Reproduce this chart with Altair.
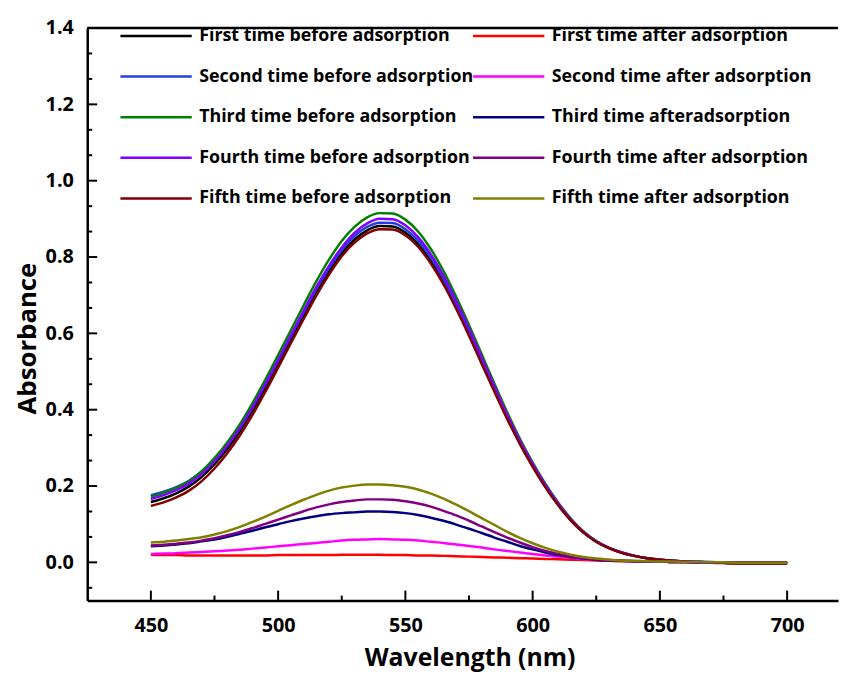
import altair as alt
import pandas as pd

wavelength = list(range(450, 701, 5))

before_names = ["First time before adsorption", "Second time before adsorption",
                "Third time before adsorption", "Fourth time before adsorption",
                "Fifth time before adsorption"]
after_names = ["First time after adsorption", "Second time after adsorption",
               "Third time afteradsorption", "Fourth time after adsorption",
               "Fifth time after adsorption"]
before_colors = ["#000000", "#1f3fe0", "#008000", "#8000ff", "#800000"]
after_colors = ["#ff0000", "#ff00ff", "#000080", "#800080", "#808000"]

first_before = [0.158, 0.168, 0.181, 0.199, 0.224, 0.257, 0.297, 0.344, 0.398, 0.458,
                0.521, 0.584, 0.647, 0.708, 0.763, 0.810, 0.846, 0.870, 0.881, 0.880,
                0.864, 0.834, 0.790, 0.734, 0.669, 0.598, 0.524, 0.450, 0.378, 0.312,
                0.252, 0.198, 0.151, 0.110, 0.078, 0.054, 0.037, 0.025, 0.017, 0.011,
                0.007, 0.004, 0.002, 0.001, 0.000, -0.001, -0.002, -0.002, -0.002, -0.002, -0.002]
second_before = [0.176, 0.185, 0.197, 0.214, 0.238, 0.270, 0.309, 0.355, 0.408, 0.467,
                 0.529, 0.592, 0.655, 0.716, 0.771, 0.818, 0.855, 0.879, 0.890, 0.889,
                 0.873, 0.843, 0.799, 0.742, 0.676, 0.605, 0.530, 0.455, 0.382, 0.315,
                 0.255, 0.200, 0.153, 0.112, 0.079, 0.055, 0.038, 0.026, 0.017, 0.011,
                 0.007, 0.004, 0.003, 0.002, 0.001, 0.000, -0.001, -0.001, -0.001, -0.001, -0.001]
third_before = [0.172, 0.182, 0.195, 0.213, 0.239, 0.273, 0.314, 0.362, 0.418, 0.479,
                0.543, 0.608, 0.673, 0.736, 0.793, 0.842, 0.879, 0.904, 0.915, 0.914,
                0.898, 0.867, 0.821, 0.763, 0.695, 0.622, 0.545, 0.468, 0.393, 0.324,
                0.262, 0.206, 0.157, 0.115, 0.081, 0.056, 0.038, 0.026, 0.017, 0.011,
                0.007, 0.004, 0.002, 0.001, 0.000, -0.001, -0.002, -0.002, -0.002, -0.002, -0.002]
fourth_before = [0.166, 0.176, 0.189, 0.207, 0.232, 0.265, 0.305, 0.352, 0.407, 0.467,
                 0.530, 0.595, 0.659, 0.721, 0.777, 0.825, 0.863, 0.888, 0.900, 0.899,
                 0.883, 0.852, 0.807, 0.750, 0.684, 0.612, 0.536, 0.460, 0.387, 0.319,
                 0.258, 0.203, 0.155, 0.113, 0.080, 0.055, 0.038, 0.026, 0.017, 0.011,
                 0.007, 0.004, 0.002, 0.001, 0.000, -0.001, -0.002, -0.002, -0.002, -0.002, -0.002]
fifth_before = [0.148, 0.157, 0.170, 0.188, 0.213, 0.246, 0.286, 0.333, 0.387, 0.447,
                0.510, 0.574, 0.637, 0.699, 0.754, 0.802, 0.838, 0.862, 0.873, 0.872,
                0.857, 0.827, 0.783, 0.728, 0.664, 0.594, 0.520, 0.447, 0.376, 0.310,
                0.251, 0.197, 0.150, 0.110, 0.078, 0.054, 0.037, 0.025, 0.017, 0.011,
                0.007, 0.004, 0.002, 0.000, -0.001, -0.002, -0.003, -0.003, -0.003, -0.003, -0.003]

first_after = [0.020, 0.019, 0.019, 0.018, 0.018, 0.018, 0.018, 0.018, 0.018, 0.018,
               0.019, 0.019, 0.019, 0.019, 0.019, 0.020, 0.020, 0.020, 0.020, 0.019,
               0.019, 0.018, 0.018, 0.017, 0.016, 0.015, 0.014, 0.013, 0.012, 0.011,
               0.010, 0.009, 0.008, 0.007, 0.006, 0.005, 0.004, 0.003, 0.003, 0.002,
               0.002, 0.001, 0.001, 0.000, 0.000, 0.000, -0.001, -0.001, -0.001, -0.001, -0.001]
second_after = [0.022, 0.023, 0.024, 0.026, 0.027, 0.029, 0.031, 0.033, 0.036, 0.039,
                0.042, 0.045, 0.048, 0.051, 0.054, 0.057, 0.059, 0.060, 0.061, 0.060,
                0.059, 0.057, 0.054, 0.051, 0.047, 0.043, 0.039, 0.034, 0.030, 0.026,
                0.022, 0.018, 0.015, 0.012, 0.009, 0.007, 0.005, 0.004, 0.003, 0.002,
                0.002, 0.001, 0.001, 0.000, 0.000, 0.000, -0.001, -0.001, -0.001, -0.001, -0.001]
third_after = [0.042, 0.044, 0.047, 0.050, 0.055, 0.060, 0.067, 0.075, 0.083, 0.092,
               0.100, 0.108, 0.115, 0.121, 0.126, 0.129, 0.131, 0.133, 0.133, 0.132,
               0.129, 0.124, 0.117, 0.109, 0.099, 0.088, 0.077, 0.065, 0.054, 0.043,
               0.034, 0.026, 0.019, 0.014, 0.010, 0.007, 0.005, 0.004, 0.003, 0.002,
               0.002, 0.001, 0.001, 0.000, 0.000, 0.000, -0.001, -0.001, -0.001, -0.001, -0.001]
fourth_after = [0.044, 0.046, 0.049, 0.052, 0.057, 0.063, 0.071, 0.080, 0.090, 0.101,
                0.112, 0.123, 0.134, 0.144, 0.152, 0.158, 0.162, 0.165, 0.165, 0.164,
                0.160, 0.154, 0.146, 0.135, 0.123, 0.109, 0.094, 0.079, 0.065, 0.052,
                0.040, 0.030, 0.022, 0.016, 0.011, 0.008, 0.006, 0.004, 0.003, 0.002,
                0.002, 0.001, 0.001, 0.000, 0.000, -0.001, -0.001, -0.001, -0.001, -0.001, -0.001]
fifth_after = [0.052, 0.054, 0.057, 0.061, 0.066, 0.073, 0.082, 0.093, 0.106, 0.120,
               0.135, 0.150, 0.164, 0.177, 0.188, 0.196, 0.201, 0.204, 0.204, 0.202,
               0.198, 0.191, 0.180, 0.167, 0.151, 0.134, 0.116, 0.098, 0.080, 0.064,
               0.050, 0.038, 0.028, 0.020, 0.014, 0.010, 0.007, 0.005, 0.004, 0.003,
               0.002, 0.002, 0.001, 0.001, 0.000, 0.000, -0.001, -0.001, -0.001, -0.001, -0.001]

y_major = [0.0, 0.2, 0.4, 0.6, 0.8, 1.0, 1.2, 1.4]
y_minor = [-0.0667, 0.0667, 0.1333, 0.2667, 0.3333, 0.4667, 0.5333, 0.6667, 0.7333,
           0.8667, 0.9333, 1.0667, 1.1333, 1.2667, 1.3333]
x_major = [450, 500, 550, 600, 650, 700]
x_minor = [475, 525, 575, 625, 675]

FONT = "Open Sans"
W, H = 758, 578

before_series = [first_before, second_before, third_before, fourth_before, fifth_before]
after_series = [first_after, second_after, third_after, fourth_after, fifth_after]

def long_table(names, series):
    rows = []
    for order, (name, vals) in enumerate(zip(names, series)):
        for wl, v in zip(wavelength, vals):
            rows.append({"wl": wl, "abs": v, "series": name, "order": order})
    return pd.DataFrame(rows)

df_before = long_table(before_names, before_series)
df_after = long_table(after_names, after_series)

xscale = alt.Scale(domain=[425, 720], nice=False, zero=False)
yscale = alt.Scale(domain=[-0.1, 1.4], nice=False, zero=False)

x_axis = alt.Axis(values=x_major, format="d", title="Wavelength (nm)", ticks=False, tickSize=0,
                  grid=False, domainColor="black", domainWidth=2.5, labelFont=FONT,
                  labelFontSize=20, labelFontWeight="bold", labelColor="black", labelPadding=15,
                  titleFont=FONT, titleFontSize=25, titleFontWeight="bold", titleColor="black",
                  titleX=386, titleY=66, titleAlign="center", titleBaseline="alphabetic")
y_axis = alt.Axis(values=y_major, format=".1f", title="Absorbance", ticks=False, tickSize=0,
                  grid=False, domainColor="black", domainWidth=2.5, labelFont=FONT,
                  labelFontSize=20, labelFontWeight="bold", labelColor="black", labelPadding=14,
                  titleFont=FONT, titleFontSize=26, titleFontWeight="bold", titleColor="black",
                  titleX=-52, titleY=313, titleAngle=270, titleAlign="center",
                  titleBaseline="alphabetic")

def legend(x):
    return alt.Legend(orient="none", legendX=x, legendY=-2, title=None, symbolType="stroke",
                      symbolSize=5184, symbolStrokeWidth=2.5, clipHeight=20, rowPadding=21,
                      labelOffset=6, labelFont=FONT, labelFontSize=18, labelFontWeight="bold",
                      labelColor="black", labelLimit=500, padding=0)

before_lines = alt.Chart(df_before).mark_line(strokeWidth=2.5, interpolate="monotone").encode(
    x=alt.X("wl:Q", scale=xscale, axis=x_axis),
    y=alt.Y("abs:Q", scale=yscale, axis=y_axis),
    color=alt.Color("series:N", scale=alt.Scale(domain=before_names, range=before_colors),
                    legend=legend(32)),
    order="order:Q",
)
after_lines = alt.Chart(df_after).mark_line(strokeWidth=2.5, interpolate="monotone").encode(
    x=alt.X("wl:Q", scale=xscale, axis=x_axis),
    y=alt.Y("abs:Q", scale=yscale, axis=y_axis),
    color=alt.Color("series:N", scale=alt.Scale(domain=after_names, range=after_colors),
                    legend=legend(388)),
    order="order:Q",
)

def ytick(vals, length):
    return alt.Chart(pd.DataFrame({"abs": vals})).mark_rule(color="black", strokeWidth=2).encode(
        y=alt.Y("abs:Q", scale=yscale, axis=y_axis), x=alt.value(0), x2=alt.value(length))

def xtick(vals, length):
    return alt.Chart(pd.DataFrame({"wl": vals})).mark_rule(color="black", strokeWidth=2).encode(
        x=alt.X("wl:Q", scale=xscale, axis=x_axis), y=alt.value(H), y2=alt.value(H - length))

top_line = alt.Chart(pd.DataFrame({"abs": [1.4]})).mark_rule(color="black", strokeWidth=2.5).encode(
    y=alt.Y("abs:Q", scale=yscale, axis=y_axis))

chart = alt.layer(
    before_lines, after_lines,
    ytick(y_major, 10), ytick(y_minor, 5), xtick(x_major, 10), xtick(x_minor, 5), top_line,
).resolve_scale(color="independent").properties(
    width=W, height=H,
    autosize=alt.AutoSizeParams(type="none"),
    padding={"left": 80, "top": 17, "right": 3, "bottom": 75},
    background="white",
).configure_view(stroke=None)

chart.save("out.html", embed_options={"renderer": "svg", "actions": False})
